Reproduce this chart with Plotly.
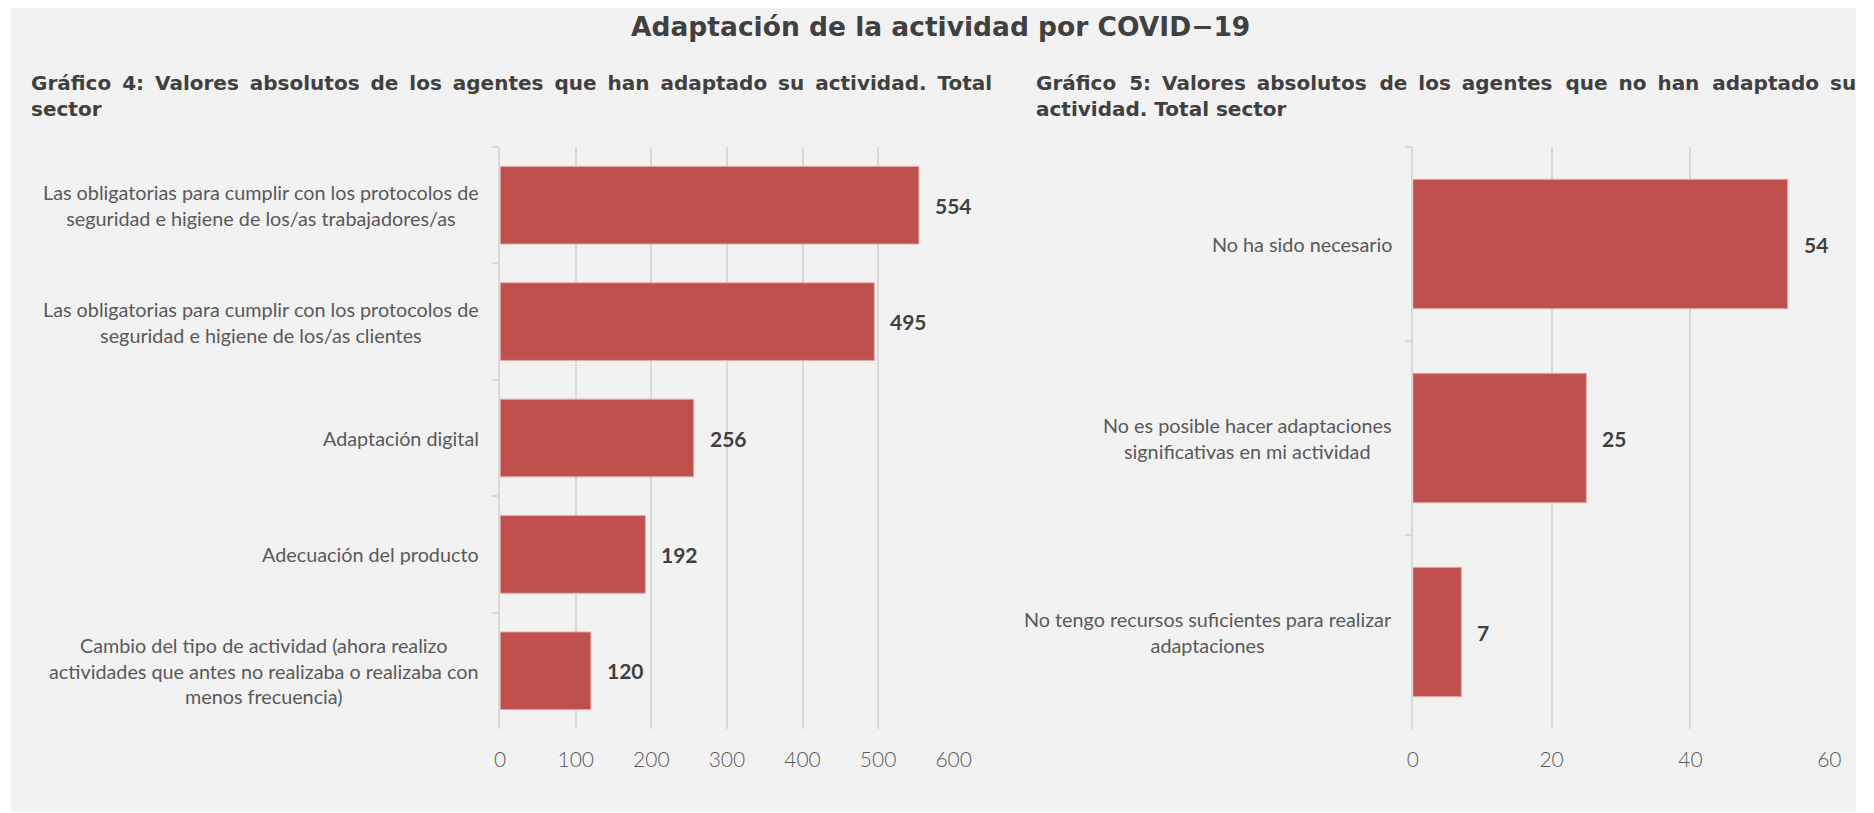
import plotly.graph_objects as go

W, H = 1874, 813

title_text = "Adaptación de la actividad por COVID−19"
sub4_lines = ["Gráfico 4: Valores absolutos de los agentes que han adaptado su actividad. Total", "sector"]
sub5_lines = ["Gráfico 5: Valores absolutos de los agentes que no han adaptado su", "actividad. Total sector"]

cats4 = [
    "Las obligatorias para cumplir con los protocolos de<br>seguridad e higiene de los/as trabajadores/as",
    "Las obligatorias para cumplir con los protocolos de<br>seguridad e higiene de los/as clientes",
    "Adaptación digital",
    "Adecuación del producto",
    "Cambio del tipo de actividad (ahora realizo<br>actividades que antes no realizaba o realizaba con<br>menos frecuencia)",
]
vals4 = [554, 495, 256, 192, 120]
ticks4 = [0, 100, 200, 300, 400, 500, 600]

cats5 = [
    "No ha sido necesario",
    "No es posible hacer adaptaciones<br>significativas en mi actividad",
    "No tengo recursos suficientes para realizar<br>adaptaciones",
]
vals5 = [54, 25, 7]
ticks5 = [0, 20, 40, 60]

BAR = "#c0504d"
GRID = "#d9d9d9"
TXT = "#595959"
DARK = "#404040"
PANEL = "#f2f2f2"


def px_x(p):
    return p / W


def px_y(p):
    return 1 - p / H


def justify(line, extras):
    # widen the word gaps a little, like the justified text of the original
    words = line.split(" ")
    out = words[0]
    for i, w in enumerate(words[1:]):
        out += " " + extras[i % len(extras)] + w
    return out


fig = go.Figure()
fig.add_trace(go.Bar(x=vals4, y=cats4, orientation="h", xaxis="x", yaxis="y",
                     marker=dict(color=BAR, line=dict(color="#e3aaa9", width=1)),
                     hoverinfo="x+y", showlegend=False))
fig.add_trace(go.Bar(x=vals5, y=cats5, orientation="h", xaxis="x2", yaxis="y2",
                     marker=dict(color=BAR, line=dict(color="#e3aaa9", width=1)),
                     hoverinfo="x+y", showlegend=False))

ydom = [px_y(729), px_y(147)]
common_x = dict(showgrid=True, gridcolor=GRID, gridwidth=1.5, zeroline=False,
                showline=False, ticks="",
                tickfont=dict(family="Lato", size=21, color=TXT, weight=300),
                ticklabelstandoff=16, fixedrange=True)
common_y = dict(autorange="reversed", showticklabels=False, showline=True, linecolor=GRID,
                linewidth=1.5, ticks="outside", tickson="boundaries", ticklen=6,
                tickcolor=GRID, tickwidth=1.5, showgrid=False, fixedrange=True)

fig.update_layout(
    width=W, height=H, autosize=False,
    margin=dict(l=0, r=0, t=0, b=0),
    paper_bgcolor="white", plot_bgcolor=PANEL,
    bargap=0.333,
    xaxis=dict(domain=[px_x(500.6), px_x(960)], range=[0, 600], tickvals=ticks4, anchor="y", **common_x),
    yaxis=dict(domain=ydom, anchor="x", **common_y),
    xaxis2=dict(domain=[px_x(1425), px_x(1847)], range=[0, 60], tickvals=ticks5, anchor="y2", **common_x),
    yaxis2=dict(domain=ydom, anchor="x2", **common_y),
    font=dict(family="Lato", color=TXT),
)

fig.add_shape(type="rect", xref="paper", yref="paper", x0=px_x(5), x1=1,
              y0=px_y(812), y1=px_y(8), fillcolor=PANEL, line=dict(width=0), layer="below")

annotations = []
annotations.append(dict(text=f"<b>{title_text}</b>", xref="paper", yref="paper",
                        x=px_x(947), y=px_y(26), xanchor="center", yanchor="middle",
                        showarrow=False, font=dict(family="DejaVu Sans", size=26.5, color=DARK)))

sub4 = justify(sub4_lines[0], ["\u2009"]) + "<br>" + sub4_lines[1]
sub5 = justify(sub5_lines[0], ["\u2009\u200a", "\u2009", "\u2009"]) + "<br>" + sub5_lines[1]
annotations.append(dict(text=f"<b>{sub4}</b>", xref="paper", yref="paper",
                        x=px_x(23), y=px_y(69), xanchor="left", yanchor="top", align="left",
                        showarrow=False, font=dict(family="DejaVu Sans", size=20, color=DARK)))
annotations.append(dict(text=f"<b>{sub5}</b>", xref="paper", yref="paper",
                        x=px_x(1041), y=px_y(69), xanchor="left", yanchor="top", align="left",
                        showarrow=False, font=dict(family="DejaVu Sans", size=20, color=DARK)))

for cats, vals, xr, yr in [(cats4, vals4, "x", "y"), (cats5, vals5, "x2", "y2")]:
    for c, v in zip(cats, vals):
        annotations.append(dict(text=c, xref=xr, yref=yr, x=0, y=c, xanchor="right",
                                yanchor="middle", xshift=-19, align="center", showarrow=False,
                                font=dict(family="Lato", size=19.8, color=TXT)))
        annotations.append(dict(text=f"<b>{v}</b>", xref=xr, yref=yr, x=v, y=c, xanchor="left",
                                yanchor="middle", xshift=14, showarrow=False,
                                font=dict(family="Lato", size=21, color=DARK)))

fig.update_layout(annotations=annotations)

fig.write_html("out.html", include_plotlyjs=True, full_html=True,
               config={"responsive": False, "displayModeBar": False},
               post_script="document.body.style.margin='0';document.body.style.overflow='hidden';")
